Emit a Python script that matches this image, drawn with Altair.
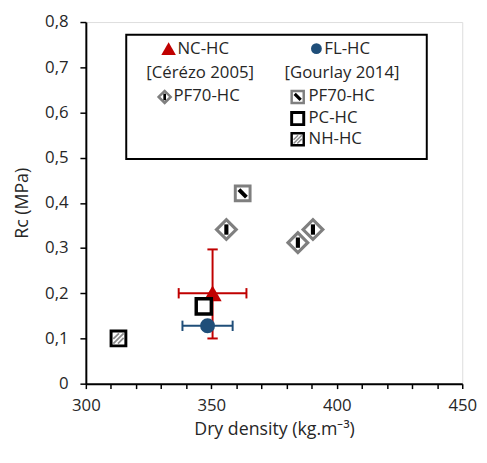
import altair as alt
import pandas as pd

# ---------------- data ----------------
# This work: NC-HC (red triangle) with error bars
nc_x = [350.5]
nc_y = [0.20]
nc_x_lo = [337.0]
nc_x_hi = [364.0]
nc_y_lo = [0.10]
nc_y_hi = [0.297]

# This work: FL-HC (blue circle) with horizontal error bar
fl_x = [348.5]
fl_y = [0.128]
fl_x_lo = [338.5]
fl_x_hi = [358.5]

# [Cérézo 2005] PF70-HC (diamonds)
cer_x = [356.0, 384.5, 390.5]
cer_y = [0.341, 0.312, 0.341]

# [Gourlay 2014]
gpf_x = [362.5]
gpf_y = [0.421]
pc_x = [347.0]
pc_y = [0.171]
nh_x = [313.0]
nh_y = [0.100]

x_ticks = list(range(300, 451, 10))
y_ticks = [0, 0.1, 0.2, 0.3, 0.4, 0.5, 0.6, 0.7, 0.8]

RED = "#C00000"
BLUE = "#1F4E79"
GRAY = "#7F7F7F"
FONT = "Open Sans"
TXT = "#262626"

W, H = 382, 367

xscale = alt.Scale(domain=[300, 450], nice=False, zero=False)
yscale = alt.Scale(domain=[0, 0.8], nice=False, zero=False)

xaxis = alt.Axis(
    title="Dry density (kg.m⁻³)", values=x_ticks, grid=False,
    labelExpr="datum.value % 50 == 0 ? datum.label : ''",
    tickSize=5, tickColor="black", tickWidth=1.5,
    domainColor="black", domainWidth=2,
    labelFont=FONT, labelFontSize=17, labelColor=TXT, labelPadding=9,
    titleFont=FONT, titleFontSize=18, titleFontWeight="normal", titleColor=TXT,
    titlePadding=8, labelFlush=False,
)
yaxis = alt.Axis(
    title="Rc (MPa)", values=y_ticks, grid=False,
    labelExpr="datum.value == 0 ? '0' : replace(format(datum.value, '.1f'), '.', ',')",
    tickSize=6, tickColor="black", tickWidth=1.5,
    domainColor="black", domainWidth=2,
    labelFont=FONT, labelFontSize=17, labelColor=TXT, labelPadding=12,
    titleFont=FONT, titleFontSize=18, titleFontWeight="normal", titleColor=TXT,
    titlePadding=13, labelFlush=False,
)

X = alt.X("x:Q", scale=xscale, axis=xaxis)
Y = alt.Y("y:Q", scale=yscale, axis=yaxis)

def df(xs, ys):
    return pd.DataFrame({"x": xs, "y": ys})

VCAP = "M0,-1L0,1"
HCAP = "M-1,0L1,0"
STRIPE_SQ = "M-1,-0.45L-0.45,-1L1,0.45L0.45,1Z"
STRIPE_DIA = "M-0.4,-1L0.4,-1L0.4,1L-0.4,1Z"
HATCH = "M-1,1L1,-1M-1,0.1L0.1,-1M-0.1,1L1,-0.1"

layers = []

# axes carrier (invisible)
layers.append(alt.Chart(df([300], [0])).mark_point(opacity=0).encode(x=X, y=Y))

def pts(xs, ys, **kw):
    return alt.Chart(df(xs, ys)).mark_point(**kw).encode(x=X, y=Y)

# Cérézo PF70-HC diamonds
layers.append(pts(cer_x, cer_y, shape="diamond", size=400, filled=True, fill="white",
                  stroke=GRAY, strokeWidth=3.2, opacity=1))
layers.append(pts(cer_x, cer_y, shape=STRIPE_DIA, size=110, filled=True, color="black",
                  strokeWidth=0, opacity=1))

# Gourlay PF70-HC square
layers.append(pts(gpf_x, gpf_y, shape="square", size=225, filled=True, fill="white",
                  stroke=GRAY, strokeWidth=3, opacity=1))
layers.append(pts(gpf_x, gpf_y, shape=STRIPE_SQ, size=110, filled=True, color="black",
                  strokeWidth=0, opacity=1))

# NH-HC square
layers.append(pts(nh_x, nh_y, shape="square", size=225, filled=True, fill="white",
                  stroke="black", strokeWidth=3, opacity=1))
layers.append(pts(nh_x, nh_y, shape=HATCH, size=110, filled=False, color="#8C8C8C",
                  strokeWidth=1.8, opacity=1))

# NC-HC error bars + triangle
nc_h = pd.DataFrame({"x": nc_x_lo, "x2": nc_x_hi, "y": nc_y})
nc_v = pd.DataFrame({"x": nc_x, "y": nc_y_lo, "y2": nc_y_hi})
layers.append(alt.Chart(nc_h).mark_rule(color=RED, strokeWidth=2).encode(x=X, x2="x2:Q", y=Y))
layers.append(alt.Chart(nc_v).mark_rule(color=RED, strokeWidth=2).encode(x=X, y=Y, y2="y2:Q"))
layers.append(pts(nc_x_lo + nc_x_hi, nc_y + nc_y, shape=VCAP, size=110, filled=False,
                  color=RED, strokeWidth=2, opacity=1))
layers.append(pts(nc_x + nc_x, nc_y_lo + nc_y_hi, shape=HCAP, size=110, filled=False,
                  color=RED, strokeWidth=2, opacity=1))
layers.append(pts(nc_x, nc_y, shape="triangle-up", size=340, filled=True, color=RED, opacity=1))

# PC-HC square
layers.append(pts(pc_x, pc_y, shape="square", size=235, filled=True, fill="white",
                  stroke="black", strokeWidth=3.5, opacity=1))

# FL-HC error bar + circle
fl_h = pd.DataFrame({"x": fl_x_lo, "x2": fl_x_hi, "y": fl_y})
layers.append(alt.Chart(fl_h).mark_rule(color=BLUE, strokeWidth=2).encode(x=X, x2="x2:Q", y=Y))
layers.append(pts(fl_x_lo + fl_x_hi, fl_y + fl_y, shape=VCAP, size=110, filled=False,
                  color=BLUE, strokeWidth=2, opacity=1))
layers.append(pts(fl_x, fl_y, shape="circle", size=230, filled=True, color=BLUE, opacity=1))

# ---------------- legend box (manual) ----------------
one = pd.DataFrame({"a": [0]})
def box():
    return alt.Chart(one).mark_rect(fill="white", stroke="black", strokeWidth=2).encode(
        x=alt.value(41), x2=alt.value(346), y=alt.value(13), y2=alt.value(139))

def sym(px, py, **kw):
    return alt.Chart(one).mark_point(opacity=1, **kw).encode(x=alt.value(px), y=alt.value(py))

LFS = 17
def txt(px, py, s, align="left"):
    return alt.Chart(one).mark_text(text=s, font=FONT, fontSize=LFS, color=TXT, align=align,
                                    baseline="middle").encode(x=alt.value(px), y=alt.value(py))

layers.append(box())
layers.append(sym(84, 27, shape="triangle-up", size=220, filled=True, color=RED))
layers.append(txt(93, 27, "NC-HC"))
layers.append(sym(234, 27, shape="circle", size=120, filled=True, color=BLUE))
layers.append(txt(242, 27, "FL-HC"))
layers.append(txt(116, 52, "[Cérézo 2005]", align="center"))
layers.append(txt(260, 52, "[Gourlay 2014]", align="center"))
layers.append(sym(80, 76, shape="diamond", size=150, filled=True, fill="white", stroke=GRAY, strokeWidth=2.5))
layers.append(sym(80, 76, shape=STRIPE_DIA, size=45, filled=True, color="black", strokeWidth=0))
layers.append(txt(89, 75, "PF70-HC"))
layers.append(sym(215, 76, shape="square", size=150, filled=True, fill="white", stroke=GRAY, strokeWidth=2.5))
layers.append(sym(215, 76, shape=STRIPE_SQ, size=70, filled=True, color="black", strokeWidth=0))
layers.append(txt(226, 75, "PF70-HC"))
layers.append(sym(215, 98, shape="square", size=150, filled=True, fill="white", stroke="black", strokeWidth=3))
layers.append(txt(226, 97, "PC-HC"))
layers.append(sym(215, 119, shape="square", size=150, filled=True, fill="white", stroke="black", strokeWidth=2.5))
layers.append(sym(215, 119, shape=HATCH, size=70, filled=False, color="#8C8C8C", strokeWidth=1.5))
layers.append(txt(226, 119, "NH-HC"))

chart = alt.layer(*layers).properties(
    width=W, height=H,
    autosize=alt.AutoSizeParams(type="none"),
    padding={"left": 79, "top": 11, "right": 17, "bottom": 60},
).configure_view(stroke="black", strokeWidth=1).configure(background="white")

chart.save("out.html", embed_options={"renderer": "svg", "actions": False})
